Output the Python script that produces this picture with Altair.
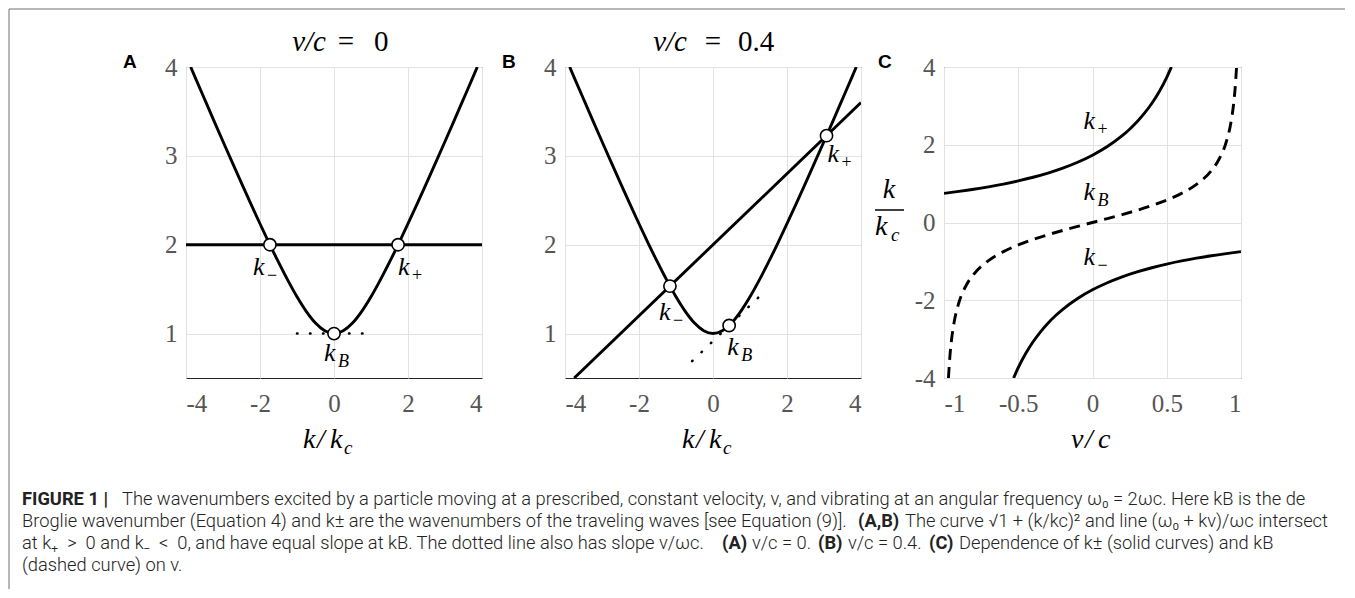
import altair as alt
import pandas as pd

SERIF = "Liberation Serif"
SANS = "Liberation Sans"
CAPF = "Roboto"

# ---------------- data ----------------
# curve sqrt(1 + (k/kc)^2) used in panels A and B
curve_k = [-3.873, -3.75, -3.5, -3.25, -3.0, -2.75, -2.5, -2.25, -2.0, -1.75, -1.5, -1.25, -1.0,
           -0.75, -0.5, -0.25, 0.0, 0.25, 0.5, 0.75, 1.0, 1.25, 1.5, 1.75, 2.0, 2.25, 2.5, 2.75,
           3.0, 3.25, 3.5, 3.75, 3.873]
curve_w = [4.0, 3.881, 3.640, 3.400, 3.162, 2.926, 2.693, 2.462, 2.236, 2.016, 1.803, 1.601, 1.414,
           1.25, 1.118, 1.031, 1.0, 1.031, 1.118, 1.25, 1.414, 1.601, 1.803, 2.016, 2.236, 2.462,
           2.693, 2.926, 3.162, 3.400, 3.640, 3.881, 4.0]

# panel A (v/c = 0)
lineA_k = [-4.0, 4.0]
lineA_w = [2.0, 2.0]
dotA_k = [-1.0, 1.0]
dotA_w = [1.0, 1.0]
ptsA_k = [-1.732, 0.0, 1.732]
ptsA_w = [2.0, 1.0, 2.0]

# panel B (v/c = 0.4)
lineB_k = [-3.75, 4.0]
lineB_w = [0.5, 3.6]
dotB_k = [-0.564, 1.436]
dotB_w = [0.690, 1.490]
ptsB_k = [-1.164, 0.436, 3.068]
ptsB_w = [1.534, 1.091, 3.227]

# panel C
kp_v = [-1.0, -0.9, -0.8, -0.7, -0.6, -0.5, -0.4, -0.3, -0.2, -0.1, 0.0, 0.1, 0.2, 0.25, 0.3,
        0.35, 0.4, 0.45, 0.5, 0.531]
kp_k = [0.75, 0.800, 0.855, 0.918, 0.989, 1.070, 1.164, 1.272, 1.399, 1.550, 1.732, 1.954, 2.232,
        2.400, 2.591, 2.812, 3.068, 3.372, 3.736, 4.0]
km_v = [-0.531, -0.5, -0.45, -0.4, -0.35, -0.3, -0.25, -0.2, -0.1, 0.0, 0.1, 0.2, 0.3, 0.4, 0.5,
        0.6, 0.7, 0.8, 0.9, 1.0]
km_k = [-4.0, -3.736, -3.372, -3.068, -2.812, -2.591, -2.400, -2.232, -1.954, -1.732, -1.550,
        -1.399, -1.272, -1.164, -1.070, -0.989, -0.918, -0.855, -0.800, -0.75]
kb_v = [-0.9701, -0.96, -0.95, -0.93, -0.9, -0.85, -0.8, -0.7, -0.6, -0.5, -0.4, -0.3, -0.2, -0.1,
        0.0, 0.1, 0.2, 0.3, 0.4, 0.5, 0.6, 0.7, 0.8, 0.85, 0.9, 0.93, 0.95, 0.96, 0.9701]
kb_k = [-4.0, -3.429, -3.042, -2.530, -2.065, -1.614, -1.333, -0.980, -0.75, -0.577, -0.436,
        -0.314, -0.204, -0.100, 0.0, 0.100, 0.204, 0.314, 0.436, 0.577, 0.75, 0.980, 1.333, 1.614,
        2.065, 2.530, 3.042, 3.429, 4.0]
labC_v = [-0.06, -0.06, -0.06]
labC_k = [2.40, 0.58, -1.09]
labC_sub = ["+", "B", "\u2212"]

xticks_ab = [-4, -2, 0, 2, 4]
yticks_ab = [1, 2, 3, 4]
xticks_c = [-1, -0.5, 0, 0.5, 1]
yticks_c = [-4, -2, 0, 2, 4]

NB = "\u00a0"
caption_lines = [
    [("FIGURE 1 |", 21, "bold"),
     ("The wavenumbers excited by a particle moving at a prescribed, constant velocity, v, and vibrating at an angular frequency \u03c9\u2080 = 2\u03c9c. Here kB is the de", 121, 300)],
    [("Broglie wavenumber (Equation 4) and k\u00b1 are the wavenumbers of the traveling waves [see Equation (9)].", 21, 300),
     ("(A,B)", 857, "bold"),
     ("The curve \u221a1 + (k/kc)\u00b2 and line (\u03c9\u2080 + kv)/\u03c9c intersect", 904, 300)],
    [("at k\u208a " + NB + ">" + NB + " 0 and k\u208b " + NB + "<" + NB + " 0, and have equal slope at kB. The dotted line also has slope v/\u03c9c.", 21, 300),
     ("(A)", 721, "bold"),
     ("v/c = 0.", 751, 300),
     ("(B)", 817, "bold"),
     ("v/c = 0.4.", 847, 300),
     ("(C)", 928, "bold"),
     ("Dependence of k\u00b1 (solid curves) and kB", 958, 300)],
    [("(dashed curve) on v.", 21, 300)],
]
caption_baselines = [504, 526, 548, 570]

# ---------------- helpers ----------------
ONE = pd.DataFrame({"a": [0]})
LBL = "replace(format(datum.value, '~g'), '\u2212', '-')"


def df(x, y):
    return pd.DataFrame({"x": x, "y": y})


def make_enc(xdom, ydom, xt, yt):
    xs = alt.Scale(domain=xdom, nice=False, zero=False)
    ys = alt.Scale(domain=ydom, nice=False, zero=False)
    ax = alt.Axis(values=xt, title=None, labelExpr=LBL)
    ay = alt.Axis(values=yt, title=None, labelExpr=LBL)

    def enc(ch):
        return ch.encode(x=alt.X("x:Q", scale=xs, axis=ax), y=alt.Y("y:Q", scale=ys, axis=ay))
    return enc


def txt(s, x, y, size, style="normal", weight="normal", align="left", font=SERIF, color="black"):
    return alt.Chart(ONE).mark_text(
        text=s, font=font, fontSize=size, fontStyle=style, fontWeight=weight,
        align=align, baseline="alphabetic", color=color
    ).encode(x=alt.value(x), y=alt.value(y))


def klabel(enc, xv, yv, sub, dx, dy):
    d = df([xv], [yv])
    k = enc(alt.Chart(d).mark_text(text="k", font=SERIF, fontStyle="italic", fontSize=26,
                                   align="left", baseline="alphabetic", dx=dx, dy=dy, color="black"))
    s = enc(alt.Chart(d).mark_text(text=sub, font=SERIF,
                                   fontStyle="italic" if sub == "B" else "normal",
                                   fontSize=18, align="left", baseline="alphabetic",
                                   dx=dx + 14, dy=dy + 6, color="black"))
    return [k, s]


def solid(enc, d):
    return enc(alt.Chart(d).mark_line(color="black", strokeWidth=2.9, interpolate="monotone",
                                      clip=True, strokeJoin="round"))


def dotted(enc, d):
    return enc(alt.Chart(d).mark_line(color="black", strokeWidth=2.6, strokeCap="round",
                                      strokeDash=[0.5, 12.5], clip=True))


def circles(enc, d):
    return enc(alt.Chart(d).mark_point(shape="circle", filled=True, fill="white", stroke="black",
                                       strokeWidth=1.6, size=150, opacity=1))


def xtitle_kkc(cx):
    return [txt("k", cx - 31, 381, 28, style="italic"),
            txt("/", cx - 17, 381, 28, style="italic"),
            txt("k", cx - 4, 381, 28, style="italic"),
            txt("c", cx + 10, 387, 19, style="italic")]


# ---------------- panel A ----------------
encA = make_enc([-4, 4], [0.5, 4], xticks_ab, yticks_ab)
layersA = [
    solid(encA, df(curve_k, curve_w)),
    solid(encA, df(lineA_k, lineA_w)),
    dotted(encA, df(dotA_k, dotA_w)),
    circles(encA, df(ptsA_k, ptsA_w)),
]
layersA += klabel(encA, ptsA_k[0], ptsA_w[0], "\u2212", -17, 30)
layersA += klabel(encA, ptsA_k[1], ptsA_w[1], "B", -10, 27)
layersA += klabel(encA, ptsA_k[2], ptsA_w[2], "+", 0, 30)
layersA += [
    txt("v/c", 140, -16, 29, style="italic", align="right"),
    txt("=", 160, -16, 29, align="center"),
    txt("0", 188, -16, 29),
    txt("A", -63, 1, 19, weight="bold", font=SANS),
]
layersA += xtitle_kkc(148)
# outer frame
layersA += [
    alt.Chart(ONE).mark_rule(color="#6e6e6e", strokeWidth=1).encode(
        x=alt.value(-177), x2=alt.value(1159), y=alt.value(-58)),
    alt.Chart(ONE).mark_rule(color="#6e6e6e", strokeWidth=1).encode(
        x=alt.value(-177), y=alt.value(-58), y2=alt.value(522)),
]
# caption
for line, base in zip(caption_lines, caption_baselines):
    for s, px, w in line:
        layersA.append(txt(s, px - 185, base - 66, 18.3, weight=w, font=CAPF, color="#222222"))

A = alt.layer(*layersA).properties(width=296, height=311)

# ---------------- panel B ----------------
encB = make_enc([-4, 4], [0.5, 4], xticks_ab, yticks_ab)
layersB = [
    solid(encB, df(curve_k, curve_w)),
    solid(encB, df(lineB_k, lineB_w)),
    dotted(encB, df(dotB_k, dotB_w)),
    circles(encB, df(ptsB_k, ptsB_w)),
]
layersB += klabel(encB, ptsB_k[0], ptsB_w[0], "\u2212", -11, 34)
layersB += klabel(encB, ptsB_k[1], ptsB_w[1], "B", -2, 30)
layersB += klabel(encB, ptsB_k[2], ptsB_w[2], "+", 1, 26)
layersB += [
    txt("v/c", 122, -16, 29, style="italic", align="right"),
    txt("=", 148, -16, 29, align="center"),
    txt("0.4", 173, -16, 29),
    txt("B", -63, 1, 19, weight="bold", font=SANS),
]
layersB += xtitle_kkc(148)
B = alt.layer(*layersB).properties(width=296, height=311)

# ---------------- panel C ----------------
encC = make_enc([-1, 1], [-4, 4], xticks_c, yticks_c)
layersC = [
    solid(encC, df(kp_v, kp_k)),
    solid(encC, df(km_v, km_k)),
    encC(alt.Chart(df(kb_v, kb_k)).mark_line(color="black", strokeWidth=2.9, strokeDash=[11, 7],
                                             interpolate="monotone", clip=True)),
]
for v, k, sub in zip(labC_v, labC_k, labC_sub):
    layersC += klabel(encC, v, k, sub, 0, 0)
layersC += [
    txt("C", -66, 1, 19, weight="bold", font=SANS),
    txt("v", 127, 381, 28, style="italic"),
    txt("/", 141, 381, 28, style="italic"),
    txt("c", 154, 381, 28, style="italic"),
    txt("k", -55, 131, 28, style="italic", align="center"),
    alt.Chart(ONE).mark_rule(color="black", strokeWidth=1.5).encode(
        x=alt.value(-69), x2=alt.value(-40), y=alt.value(143)),
    txt("k", -69, 168, 28, style="italic"),
    txt("c", -53, 174, 19, style="italic"),
]
C = alt.layer(*layersC).properties(width=297, height=311)

chart = alt.hconcat(A, B, C, spacing=83, bounds="flush").properties(
    padding=0, background="white"
).configure_view(
    stroke="#262626", strokeWidth=1
).configure_axis(
    labelFont=SERIF, labelFontSize=25, labelColor="#555555", gridColor="#e2e2e2",
    gridWidth=1, domain=False, ticks=False
).configure_axisX(labelPadding=13).configure_axisY(labelPadding=9)

chart.save("out.html", embed_options={"renderer": "svg", "actions": False})
